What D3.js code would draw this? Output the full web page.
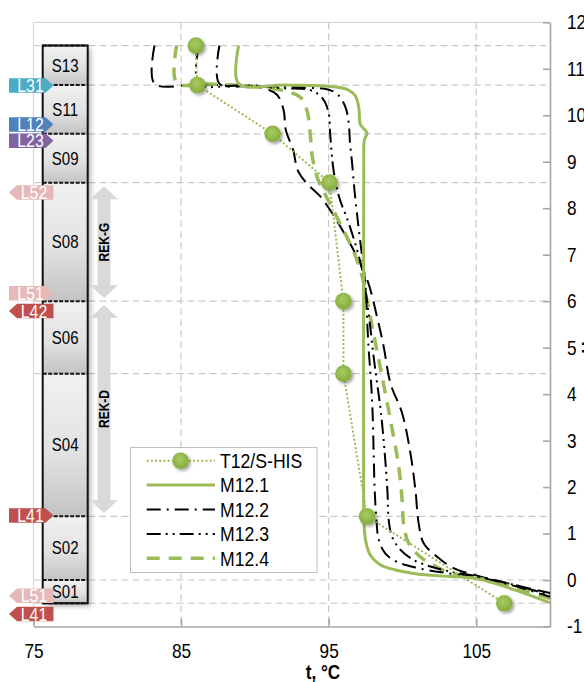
<!DOCTYPE html>
<html>
<head>
<meta charset="utf-8">
<script src="https://cdn.jsdelivr.net/npm/d3@7"></script>
<style>
body { margin: 0; background: #fff; }
svg { display: block; font-family: "Liberation Sans", Arial, sans-serif; }
</style>
</head>
<body>
<div id="chart"></div>
<script>
// ---- data ----
const xTicks = [75, 85, 95, 105];
const yTicks = d3.range(-1, 13);

const zoneNames  = ["S13", "S11", "S09", "S08", "S06", "S04", "S02", "S01"];
const zoneTop    = [11.5, 10.65, 9.6, 8.55, 6.0, 4.44, 1.37, 0];
const zoneBottom = [10.65, 9.6, 8.55, 6.0, 4.44, 1.37, 0, -0.5];
const gridLevels = [11.5, 10.65, 9.6, 8.55, 6.0, 4.44, 1.37, 0, -0.5];

const tagNames  = ["L31", "L12", "L23", "L52", "L51", "L42", "L41", "L51", "L41"];
const tagLevels = [10.64, 9.80, 9.45, 8.34, 6.17, 5.79, 1.39, -0.34, -0.73];
const tagSide   = ["right", "right", "right", "left", "right", "left", "right", "left", "left"];

const rekNames = ["REK-G", "REK-D"];
const rekFrom  = [8.47, 5.92];
const rekTo    = [6.07, 1.44];

const seriesNames = ["T12/S-HIS", "M12.1", "M12.2", "M12.3", "M12.4"];

const t12T = [86.0, 86.1, 91.2, 95.05, 96.0, 96.0, 97.6, 106.9];
const t12H = [11.5, 10.65, 9.6, 8.55, 6.0, 4.44, 1.37, -0.5];

const m121 = [[88.9,11.5],[88.9,10.68],[92,10.65],[95.1,10.62],[96.2,10.56],[96.8,10.42],[97.05,10.15],[97.15,9.8],[97.6,9.62],[97.42,9.47],[97.38,9.0],[97.37,6],[97.37,2],[97.4,1.2],[97.5,0.86],[97.8,0.55],[98.5,0.33],[99.5,0.22],[101,0.13],[103,0.08],[105,0.03],[107.5,-0.2],[110,-0.49]];
const m122 = [[87.6,11.5],[87.6,10.68],[90,10.64],[93,10.6],[95.0,10.55],[95.6,10.45],[96.13,10.18],[96.36,9.83],[96.45,9.4],[96.59,8.97],[96.75,8.39],[96.95,7.8],[97.1,7.39],[97.27,6.96],[97.5,6.31],[97.6,5.66],[97.7,5.02],[97.88,4.23],[97.98,3.59],[98.05,2.73],[98.12,1.94],[98.24,1.29],[98.4,0.86],[98.85,0.57],[99.64,0.39],[101.0,0.26],[103,0.15],[105,0.07],[107.5,-0.12],[110,-0.36]];
const m123 = [[86.2,11.5],[86.2,10.68],[89,10.64],[92,10.58],[93.76,10.54],[94.6,10.36],[95.0,10.05],[95.1,9.61],[95.2,9.2],[95.34,8.8],[95.7,8.25],[96.36,7.68],[96.93,7.1],[97.27,6.67],[97.6,6.0],[97.8,5.5],[98.05,4.8],[98.3,4.2],[98.55,3.59],[98.8,2.73],[98.98,1.94],[99.07,1.29],[99.3,0.93],[99.87,0.65],[100.77,0.43],[101.9,0.29],[103,0.2],[105,0.08],[107.5,-0.1],[110,-0.32]];
const m124 = [[84.7,11.5],[84.7,10.7],[87,10.67],[90,10.62],[92.18,10.51],[93.1,10.38],[93.55,10.08],[93.76,9.57],[93.9,9.1],[94.3,8.6],[95.2,8.03],[96.7,7.06],[97.27,6.53],[97.6,6.02],[97.95,5.45],[98.4,4.73],[98.73,4.2],[99.19,3.44],[99.75,2.44],[99.98,1.72],[100.1,1.15],[100.43,0.79],[101.2,0.5],[102.1,0.32],[103,0.18],[105,0.05],[107.5,-0.15],[110,-0.4]];
const m125 = [[83.2,11.5],[83.2,10.68],[86,10.66],[89,10.63],[90.6,10.58],[91.5,10.44],[91.95,10.11],[92.1,9.68],[92.6,9.25],[92.9,8.82],[93.5,8.54],[94.45,8.25],[95.1,7.96],[95.8,7.6],[96.93,6.95],[97.7,6.38],[98.28,5.66],[98.73,5.02],[99.19,4.23],[99.98,3.59],[100.54,2.73],[100.88,1.94],[101.1,1.22],[101.44,0.79],[102.35,0.5],[103.5,0.25],[105,0.1],[107.5,-0.1],[110,-0.28]];

// ---- styles ----
const green = "#9bbb59";
const narrow = 0.86;   // the original uses a condensed face
const tagColor = d3.scaleOrdinal()
    .domain(["L31", "L12", "L23", "L52", "L51", "L42", "L41"])
    .range(["#4bacc6", "#4f81bd", "#8064a2", "#e6b9b8", "#e6b9b8", "#c0504d", "#c0504d"]);
const curves = [
    {name: "M12.5", data: m125, stroke: "#000", width: 2, dash: "15,7"},
    {name: "M12.4", data: m124, stroke: green, width: 3.5, dash: "13,9"},
    {name: "M12.3", data: m123, stroke: "#000", width: 2, dash: "14,5,2,5,2,5"},
    {name: "M12.2", data: m122, stroke: "#000", width: 2, dash: "14,6,2,6"},
    {name: "M12.1", data: m121, stroke: green, width: 3, dash: null}
];

const width = 584, height = 682;
const x = d3.scaleLinear().domain([75, 110]).range([33.5, 550]);
const y = d3.scaleLinear().domain([-1, 12]).range([626.5, 22.3]);

const svg = d3.select("#chart").append("svg")
    .attr("width", width)
    .attr("height", height);

const defs = svg.append("defs");
const zg = defs.append("linearGradient").attr("id", "zoneFill")
    .attr("x1", 0).attr("y1", 0).attr("x2", 0).attr("y2", 1);
zg.append("stop").attr("offset", "0%").attr("stop-color", "#f1f1f1");
zg.append("stop").attr("offset", "55%").attr("stop-color", "#e2e2e2");
zg.append("stop").attr("offset", "100%").attr("stop-color", "#c3c3c3");

const mg = defs.append("radialGradient").attr("id", "dotFill")
    .attr("cx", "45%").attr("cy", "40%").attr("r", "60%");
mg.append("stop").attr("offset", "0%").attr("stop-color", "#a8cb62");
mg.append("stop").attr("offset", "100%").attr("stop-color", "#84ab3c");

defs.append("filter").attr("id", "shadow")
    .attr("x", "-50%").attr("y", "-50%").attr("width", "200%").attr("height", "200%")
    .append("feDropShadow")
    .attr("dx", 2).attr("dy", 2).attr("stdDeviation", 1.6)
    .attr("flood-color", "#000").attr("flood-opacity", 0.35);

defs.append("filter").attr("id", "colShadow")
    .attr("x", "-30%").attr("y", "-10%").attr("width", "160%").attr("height", "120%")
    .append("feDropShadow")
    .attr("dx", 3).attr("dy", 3).attr("stdDeviation", 2.5)
    .attr("flood-color", "#000").attr("flood-opacity", 0.3);

// ---- grid ----
const grid = svg.append("g").attr("class", "grid")
    .attr("stroke", "#c8c8c8").attr("stroke-width", 1.2).attr("stroke-dasharray", "7,4");
grid.selectAll("line.h")
    .data(gridLevels)
    .enter().append("line")
    .attr("class", "h")
    .attr("x1", x(75)).attr("x2", x(110))
    .attr("y1", d => y(d)).attr("y2", d => y(d));
grid.selectAll("line.v")
    .data(xTicks.slice(1))
    .enter().append("line")
    .attr("class", "v")
    .attr("x1", d => x(d)).attr("x2", d => x(d))
    .attr("y1", y(12)).attr("y2", y(-1));

// plot border (top / left)
svg.append("path")
    .attr("d", `M${x(75)},${y(-1)}V${y(12)}H${x(110)}`)
    .attr("fill", "none").attr("stroke", "#d9d9d9").attr("stroke-width", 1.2);

// ---- axes ----
const xAxis = svg.append("g")
    .attr("transform", `translate(0,${y(-1)})`)
    .call(d3.axisBottom(x).tickValues(xTicks).tickSizeInner(-8).tickSizeOuter(0).tickPadding(17));
const yAxis = svg.append("g")
    .attr("transform", `translate(${x(110)},0)`)
    .call(d3.axisRight(y).tickValues(yTicks).tickFormat(d => String(d))
        .tickSizeInner(-7).tickSizeOuter(0).tickPadding(17));
[xAxis, yAxis].forEach(a => {
    a.select(".domain").attr("stroke", "#a6a6a6").attr("stroke-width", 1.6);
    a.selectAll(".tick line").attr("stroke", "#a6a6a6").attr("stroke-width", 1.6);
    a.selectAll(".tick text").attr("fill", "#000").style("font-size", "20px")
        .style("font-family", "inherit");
});

svg.append("text")
    .attr("x", 323).attr("y", 679)
    .attr("text-anchor", "middle")
    .style("font-size", "20px").style("font-weight", "bold")
    .text("t, °C");

svg.append("text")
    .attr("transform", `translate(596,${y(5) + 6}) rotate(-90)`)
    .style("font-size", "20px").style("font-weight", "bold")
    .text("H, m");

// ---- zone column ----
const colX0 = 42.7, colX1 = 87.7;
const col = svg.append("g").attr("class", "zones");
col.append("rect")
    .attr("x", colX0).attr("y", y(zoneTop[0]))
    .attr("width", colX1 - colX0)
    .attr("height", y(-0.5) - y(zoneTop[0]))
    .attr("fill", "#ddd")
    .attr("filter", "url(#colShadow)");
col.selectAll("rect.zone")
    .data(zoneNames)
    .enter().append("rect")
    .attr("class", "zone")
    .attr("x", colX0).attr("width", colX1 - colX0)
    .attr("y", (d, i) => y(zoneTop[i]))
    .attr("height", (d, i) => y(zoneBottom[i]) - y(zoneTop[i]))
    .attr("fill", "url(#zoneFill)");
col.selectAll("line.sep")
    .data(zoneTop.concat([-0.5]))
    .enter().append("line")
    .attr("class", "sep")
    .attr("x1", colX0).attr("x2", colX1)
    .attr("y1", d => y(d)).attr("y2", d => y(d))
    .attr("stroke", "#111").attr("stroke-width", 2)
    .attr("stroke-dasharray", "4,1.5");
col.append("rect")
    .attr("x", colX0).attr("y", y(zoneTop[0]))
    .attr("width", colX1 - colX0)
    .attr("height", y(-0.5) - y(zoneTop[0]))
    .attr("fill", "none").attr("stroke", "#111").attr("stroke-width", 2);
col.selectAll("text")
    .data(zoneNames)
    .enter().append("text")
    .attr("x", (colX0 + colX1) / 2)
    .attr("y", (d, i) => (y(zoneTop[i]) + y(zoneBottom[i])) / 2)
    .attr("dy", "0.36em")
    .attr("text-anchor", "middle")
    .style("font-size", "17.5px")
    .text(d => d);

// ---- REK arrows ----
const rek = svg.append("g").attr("class", "rek");
const ax = 104, headW = 14, shaftW = 6.5, headH = 13;
rek.selectAll("path")
    .data(rekNames)
    .enter().append("path")
    .attr("d", (d, i) => {
        const t = y(rekFrom[i]), b = y(rekTo[i]);
        return `M${ax},${t}L${ax + headW},${t + headH}H${ax + shaftW}V${b - headH}H${ax + headW}` +
               `L${ax},${b}L${ax - headW},${b - headH}H${ax - shaftW}V${t + headH}H${ax - headW}Z`;
    })
    .attr("fill", "#d9d9d9");
rek.selectAll("text")
    .data(rekNames)
    .enter().append("text")
    .attr("transform", (d, i) => `translate(${ax + 5},${(y(rekFrom[i]) + y(rekTo[i])) / 2}) rotate(-90)`)
    .attr("text-anchor", "middle")
    .style("font-size", "14px").style("font-weight", "bold")
    .text(d => d);

// ---- tags ----
const tagH = 14.5, tagL = 9, tagR = 53.5, tip = 8;
const tags = svg.append("g").attr("class", "tags")
    .selectAll("g")
    .data(tagNames)
    .enter().append("g")
    .attr("transform", (d, i) => `translate(0,${y(tagLevels[i])})`);
tags.append("path")
    .attr("d", (d, i) => tagSide[i] === "right"
        ? `M${tagL},${-tagH / 2}H${tagR - tip}L${tagR},0L${tagR - tip},${tagH / 2}H${tagL}Z`
        : `M${tagL},0L${tagL + tip},${-tagH / 2}H${tagR}V${tagH / 2}H${tagL + tip}Z`)
    .attr("fill", d => tagColor(d));
tags.append("text")
    .attr("x", (d, i) => tagSide[i] === "right" ? 30.5 : 34)
    .attr("dy", "0.36em")
    .attr("text-anchor", "middle")
    .attr("fill", "#fff")
    .style("font-size", "18.5px")
    .text(d => d);

// ---- model curves ----
const line = d3.line()
    .x(d => x(d[0]))
    .y(d => y(d[1]))
    .curve(d3.curveCatmullRom.alpha(0.5));
svg.append("g").attr("class", "curves")
    .selectAll("path")
    .data(curves)
    .enter().append("path")
    .attr("d", d => line(d.data))
    .attr("fill", "none")
    .attr("stroke", d => d.stroke)
    .attr("stroke-width", d => d.width)
    .attr("stroke-dasharray", d => d.dash);

// ---- measured T12 ----
const t12 = t12T.map((t, i) => [t, t12H[i]]);
svg.append("path")
    .attr("d", d3.line().x(d => x(d[0])).y(d => y(d[1]))(t12))
    .attr("fill", "none")
    .attr("stroke", green)
    .attr("stroke-width", 2)
    .attr("stroke-dasharray", "2,2.2");
svg.append("g").selectAll("circle")
    .data(t12)
    .enter().append("circle")
    .attr("cx", d => x(d[0]))
    .attr("cy", d => y(d[1]))
    .attr("r", 8.3)
    .attr("fill", "url(#dotFill)")
    .attr("filter", "url(#shadow)");

// ---- legend ----
const lg = svg.append("g").attr("class", "legend");
lg.append("rect")
    .attr("x", 130.5).attr("y", 447.5)
    .attr("width", 186.5).attr("height", 125)
    .attr("fill", "#fff").attr("stroke", "#bfbfbf").attr("stroke-width", 1);
const legendStyle = {
    "T12/S-HIS": {stroke: green, width: 2, dash: "2,2.2"},
    "M12.1": curves[4], "M12.2": curves[3], "M12.3": curves[2], "M12.4": curves[1]
};
const rows = lg.selectAll("g.row")
    .data(seriesNames)
    .enter().append("g")
    .attr("class", "row")
    .attr("transform", (d, i) => `translate(0,${460.7 + i * 24.4})`);
rows.append("line")
    .attr("x1", 146.7).attr("x2", 215)
    .attr("stroke", d => legendStyle[d].stroke)
    .attr("stroke-width", d => legendStyle[d].width)
    .attr("stroke-dasharray", d => legendStyle[d].dash);
rows.filter(d => d === "T12/S-HIS").append("circle")
    .attr("cx", 180.5).attr("r", 8.3)
    .attr("fill", "url(#dotFill)")
    .attr("filter", "url(#shadow)");
rows.append("text")
    .attr("x", 220).attr("dy", "0.36em")
    .style("font-size", "20.5px")
    .text(d => d);

// squeeze every text horizontally to mimic the condensed face
svg.selectAll("text").each(function() {
    const t = d3.select(this);
    const tx = +t.attr("x") || 0;
    const tr = t.attr("transform") || "";
    t.attr("x", tx / narrow)
     .attr("transform", `${tr} scale(${narrow},1)`);
});
</script>
</body>
</html>
